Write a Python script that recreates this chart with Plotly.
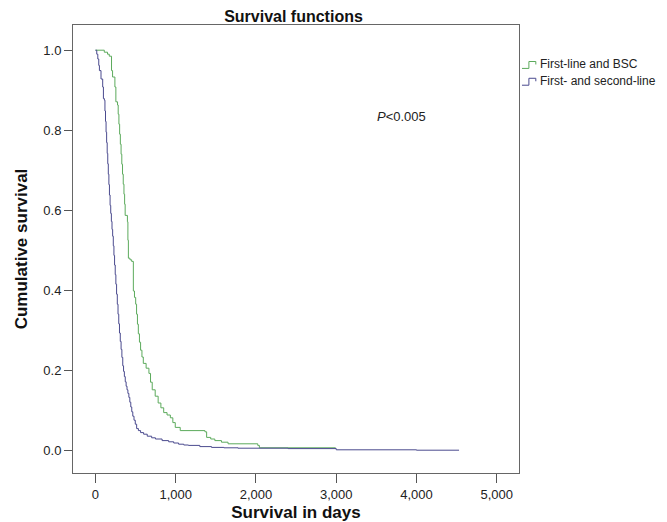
import plotly.graph_objects as go

# ---- data ----
series_names = ["First-line and BSC", "First- and second-line"]
series_colors = ["#5CAA5C", "#4A4A8E"]

green_days = [0, 110, 150, 172, 200, 213, 242, 254, 275, 283, 292, 301, 310, 319, 328, 337, 346, 355, 363, 370,
              398, 404, 410, 430, 451, 472, 486, 501, 512, 523, 534, 548, 562, 579, 596, 631, 666, 686, 707,
              744, 781, 815, 850, 892, 933, 964, 994, 1056, 1364, 1385, 1436, 1487, 1570, 1652, 2022, 2042, 2990]
green_surv = [1.0, 0.995, 0.99, 0.985, 0.949, 0.933, 0.908, 0.871, 0.863, 0.84, 0.815, 0.79, 0.765, 0.74, 0.715,
              0.69, 0.665, 0.64, 0.615, 0.587, 0.571, 0.525, 0.480, 0.476, 0.472, 0.398, 0.382, 0.365, 0.34, 0.315,
              0.291, 0.27, 0.250, 0.233, 0.217, 0.205, 0.192, 0.17, 0.151, 0.135, 0.118, 0.106, 0.094, 0.088,
              0.081, 0.069, 0.057, 0.049, 0.046, 0.032, 0.028, 0.024, 0.02, 0.016, 0.012, 0.006, 0.004]

blue_days = [0, 16, 29, 41, 49, 69, 90, 99, 111, 118, 125, 132, 139, 146, 153, 160, 167, 174, 182, 190, 198, 206,
             214, 222, 230, 238, 246, 254, 263, 272, 281, 290, 299, 309, 319, 329, 340, 350, 360, 371, 382, 393,
             404, 416, 428, 440, 452, 465, 480, 496, 513, 535, 562, 600, 645, 700, 747, 830, 912, 975, 1036,
             1100, 1159, 1300, 1446, 1600, 1776, 2400, 3000, 4000, 4530]
blue_surv = [1.0, 0.99, 0.978, 0.962, 0.949, 0.928, 0.908, 0.879, 0.875, 0.848, 0.822, 0.795, 0.769, 0.742, 0.716,
             0.690, 0.664, 0.638, 0.612, 0.592, 0.572, 0.552, 0.535, 0.511, 0.487, 0.463, 0.439, 0.415, 0.39,
             0.365, 0.34, 0.316, 0.293, 0.272, 0.252, 0.232, 0.211, 0.197, 0.184, 0.171, 0.16, 0.151, 0.142,
             0.132, 0.120, 0.108, 0.096, 0.085, 0.075, 0.065, 0.054, 0.049, 0.044, 0.04, 0.035, 0.031, 0.028,
             0.024, 0.021, 0.018, 0.015, 0.013, 0.012, 0.009, 0.007, 0.006, 0.005, 0.004, 0.001, 0.0, 0.0]

x_tick_values = [0, 1000, 2000, 3000, 4000, 5000]
x_tick_labels = ["0", "1,000", "2,000", "3,000", "4,000", "5,000"]
y_tick_values = [0.0, 0.2, 0.4, 0.6, 0.8, 1.0]
y_tick_labels = ["0.0", "0.2", "0.4", "0.6", "0.8", "1.0"]

title_text = "Survival functions"
x_title = "Survival in days"
y_title = "Cumulative survival"
p_text = "<i>P</i>&lt;0.005"

FONT = "Liberation Sans, Arial, sans-serif"

fig = go.Figure()
for name, color, xs, ys in [(series_names[0], series_colors[0], green_days, green_surv),
                            (series_names[1], series_colors[1], blue_days, blue_surv)]:
    fig.add_trace(go.Scatter(x=xs, y=ys, mode="lines", name=name, line=dict(color=color, width=1, shape="hv"),
                             showlegend=False))

# plot area geometry (pixels)
L, R, T, B = 60, 156, 17, 51
W, H = 667, 522
pw, ph = W - L - R, H - T - B

def px2paper_x(px):
    return (px - L) / pw

def px2paper_y(py):
    return (H - B - py) / ph

annotations = [
    dict(x=3814, y=0.834, xref="x", yref="y", text=p_text, showarrow=False,
         font=dict(family=FONT, size=13, color="#222"), xanchor="center", yanchor="middle"),
]
shapes = []
legend_rows_px = [57, 74]
for name, color, py in zip(series_names, series_colors, legend_rows_px):
    x0 = 514
    path = "M{:.4f},{:.4f} H{:.4f} V{:.4f} H{:.4f} V{:.4f}".format(
        px2paper_x(x0), px2paper_y(py + 4), px2paper_x(x0 + 7), px2paper_y(py - 3),
        px2paper_x(x0 + 14), px2paper_y(py))
    shapes.append(dict(type="path", xref="paper", yref="paper", path=path,
                       line=dict(color=color, width=1)))
    annotations.append(dict(x=px2paper_x(531), y=px2paper_y(py), xref="paper", yref="paper", text=name,
                            showarrow=False, xanchor="left", yanchor="middle", borderpad=0,
                            font=dict(family=FONT, size=12, color="#222")))

fig.update_layout(
    width=W, height=H,
    margin=dict(l=L, r=R, t=T, b=B, pad=0),
    paper_bgcolor="white", plot_bgcolor="white",
    font=dict(family=FONT, size=13, color="#222"),
    title=dict(text="<b>" + title_text + "</b>", x=(L + pw / 2) / W, xanchor="center",
               y=1 - 8 / H, yanchor="middle", font=dict(family=FONT, size=16, color="#111")),
    annotations=annotations,
    shapes=shapes,
    showlegend=False,
)
fig.update_xaxes(
    range=[-280, 5277], tickvals=x_tick_values, ticktext=x_tick_labels,
    ticks="outside", ticklen=9, tickcolor="#555", tickwidth=1,
    showline=True, mirror=True, linecolor="#666", linewidth=1,
    showgrid=False, zeroline=False,
    tickfont=dict(family=FONT, size=13, color="#222"),
    title=dict(text="<b>" + x_title + "</b>", font=dict(family=FONT, size=17, color="#111"), standoff=5),
)
fig.update_yaxes(
    range=[-0.057, 1.063], tickvals=y_tick_values, ticktext=y_tick_labels,
    ticks="outside", ticklen=8, tickcolor="#555", tickwidth=1,
    showline=True, mirror=True, linecolor="#666", linewidth=1,
    showgrid=False, zeroline=False,
    tickfont=dict(family=FONT, size=13, color="#222"),
    title=dict(text="<b>" + y_title + "</b>", font=dict(family=FONT, size=17, color="#111"), standoff=11),
)

fig.write_html("out.html")
